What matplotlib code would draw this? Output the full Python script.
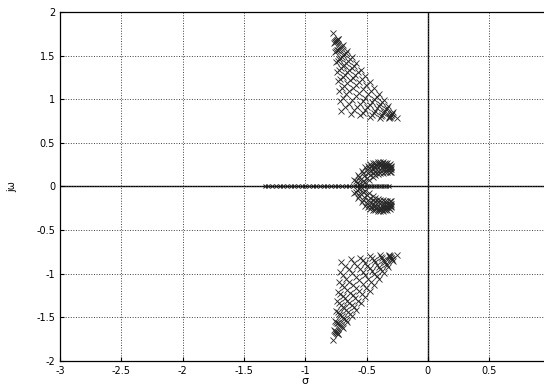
"""Root locus style scatter of closed-loop poles (sigma vs j-omega)."""

import matplotlib
matplotlib.use("Agg")
import matplotlib.pyplot as plt
import numpy as np

# upper complex cluster: each row is one pole trajectory between the
# top tip (-0.77, 1.76) and the lower-right tip (-0.25, 0.78);
# only the first row carries the two shared tips
UPPER_X = [
    [-0.770, -0.733, -0.696, -0.659, -0.621, -0.584, -0.547, -0.510, -0.473, -0.436, -0.399, -0.361, -0.324, -0.287, -0.250],
    [-0.737, -0.703, -0.670, -0.636, -0.603, -0.569, -0.536, -0.502, -0.460, -0.418, -0.375, -0.332, -0.291],
    [-0.741, -0.711, -0.681, -0.651, -0.621, -0.592, -0.562, -0.531, -0.485, -0.437, -0.388, -0.341, -0.295],
    [-0.744, -0.718, -0.692, -0.666, -0.640, -0.614, -0.588, -0.560, -0.509, -0.456, -0.402, -0.349, -0.299],
    [-0.748, -0.726, -0.704, -0.681, -0.659, -0.636, -0.614, -0.589, -0.533, -0.475, -0.416, -0.357, -0.304],
    [-0.752, -0.733, -0.715, -0.695, -0.677, -0.658, -0.640, -0.618, -0.557, -0.493, -0.429, -0.365, -0.308],
    [-0.756, -0.740, -0.726, -0.710, -0.696, -0.681, -0.666, -0.647, -0.582, -0.512, -0.443, -0.374, -0.312],
    [-0.759, -0.748, -0.737, -0.725, -0.714, -0.703, -0.692, -0.676, -0.606, -0.531, -0.456, -0.382, -0.316],
    [-0.763, -0.755, -0.748, -0.740, -0.733, -0.725, -0.718, -0.705, -0.630, -0.550, -0.470, -0.390, -0.320],
]
UPPER_Y = [
    [1.760, 1.690, 1.620, 1.550, 1.480, 1.410, 1.340, 1.270, 1.200, 1.130, 1.060, 0.990, 0.920, 0.850, 0.780],
    [1.685, 1.610, 1.535, 1.460, 1.384, 1.309, 1.234, 1.158, 1.093, 1.029, 0.966, 0.904, 0.842],
    [1.680, 1.600, 1.519, 1.439, 1.359, 1.278, 1.198, 1.116, 1.056, 0.999, 0.942, 0.887, 0.833],
    [1.675, 1.589, 1.504, 1.419, 1.333, 1.248, 1.162, 1.074, 1.019, 0.968, 0.919, 0.871, 0.825],
    [1.670, 1.579, 1.488, 1.398, 1.307, 1.217, 1.126, 1.032, 0.982, 0.937, 0.895, 0.855, 0.816],
    [1.664, 1.569, 1.473, 1.378, 1.282, 1.186, 1.091, 0.991, 0.946, 0.907, 0.871, 0.839, 0.808],
    [1.659, 1.559, 1.458, 1.357, 1.256, 1.155, 1.055, 0.949, 0.909, 0.876, 0.847, 0.822, 0.799],
    [1.654, 1.548, 1.442, 1.337, 1.231, 1.125, 1.019, 0.907, 0.872, 0.846, 0.824, 0.806, 0.791],
    [1.649, 1.538, 1.427, 1.316, 1.205, 1.094, 0.983, 0.865, 0.835, 0.815, 0.800, 0.790, 0.782],
]

# small complex "wings" close to the real axis (upper half)
WING_X = [
    [-0.60, -0.57, -0.54, -0.51, -0.49, -0.47, -0.45, -0.43, -0.41, -0.39, -0.37, -0.35, -0.33, -0.31],
    [-0.59, -0.56, -0.53, -0.50, -0.48, -0.46, -0.44, -0.42, -0.40, -0.38, -0.36, -0.34, -0.32, -0.30],
    [-0.58, -0.55, -0.52, -0.49, -0.47, -0.45, -0.43, -0.41, -0.39, -0.37, -0.35, -0.33, -0.31, -0.30],
    [-0.56, -0.53, -0.50, -0.47, -0.45, -0.43, -0.41, -0.39, -0.37, -0.35, -0.33, -0.31, -0.30],
    [-0.54, -0.51, -0.48, -0.45, -0.43, -0.41, -0.39, -0.37, -0.35, -0.33, -0.31, -0.30],
]
WING_Y = [
    [0.08, 0.13, 0.18, 0.22, 0.24, 0.26, 0.27, 0.275, 0.28, 0.28, 0.28, 0.275, 0.27, 0.26],
    [0.06, 0.11, 0.15, 0.19, 0.21, 0.23, 0.24, 0.25, 0.255, 0.26, 0.26, 0.255, 0.25, 0.24],
    [0.04, 0.08, 0.12, 0.16, 0.18, 0.20, 0.21, 0.22, 0.23, 0.235, 0.235, 0.23, 0.225, 0.22],
    [0.03, 0.06, 0.10, 0.13, 0.15, 0.17, 0.18, 0.19, 0.20, 0.205, 0.20, 0.20, 0.195],
    [0.02, 0.05, 0.08, 0.11, 0.13, 0.14, 0.15, 0.16, 0.17, 0.17, 0.17, 0.165],
]

# real poles along the sigma axis
REAL_X = [-1.33, -1.30, -1.27, -1.24, -1.21, -1.18, -1.15, -1.12, -1.09, -1.06,
          -1.03, -1.00, -0.97, -0.94, -0.91, -0.88, -0.85, -0.82, -0.79, -0.76,
          -0.73, -0.70, -0.67, -0.64, -0.61, -0.58, -0.55, -0.52, -0.50, -0.48,
          -0.46, -0.44, -0.42, -0.40, -0.38, -0.36, -0.34, -0.32]

XTICKS = [-3, -2.5, -2, -1.5, -1, -0.5, 0, 0.5, 1]
XTICKLABELS = ["-3", "-2.5", "-2", "-1.5", "-1", "-0.5", "0", "0.5", ""]
YTICKS = [-2, -1.5, -1, -0.5, 0, 0.5, 1, 1.5, 2]

plt.rcParams["font.family"] = ["DejaVu Sans"]
fig = plt.figure(figsize=(5.44, 3.87), dpi=100)
ax = fig.add_axes([0.1103, 0.0672, 0.9017, 0.9018])

ax.grid(True, linestyle=":", color="0.25", linewidth=0.7)
ax.axhline(0, color="black", linewidth=1.0, zorder=1)
ax.axvline(0, color="black", linewidth=1.0, zorder=1)

mk = dict(marker="x", linestyle="none", color="0.15", markersize=4.5, markeredgewidth=0.6)
for xs, ys in zip(UPPER_X, UPPER_Y):
    ax.plot(xs, ys, **mk)
    ax.plot(xs, -np.array(ys), **mk)

wk = dict(mk, markersize=4.0)
for xs, ys in zip(WING_X, WING_Y):
    ax.plot(xs, ys, **wk)
    ax.plot(xs, -np.array(ys), **wk)
ax.plot(REAL_X, np.zeros(len(REAL_X)), marker="x", linestyle="none", color="0.1",
        markersize=3.5, markeredgewidth=0.7)

ax.set_xlim(-3, 1)
ax.set_ylim(-2, 2)
ax.set_xticks(XTICKS)
ax.set_yticks(YTICKS)
ax.set_xticklabels(XTICKLABELS)
ax.set_yticklabels([f"{t:g}" for t in YTICKS])
ax.tick_params(direction="in", length=3, labelsize=7)
for s in ax.spines.values():
    s.set_linewidth(0.9)

ax.set_xlabel("σ", fontsize=8, labelpad=0)
ax.set_ylabel("jω", fontsize=7, labelpad=14)

fig.savefig("out.png", dpi=100)
